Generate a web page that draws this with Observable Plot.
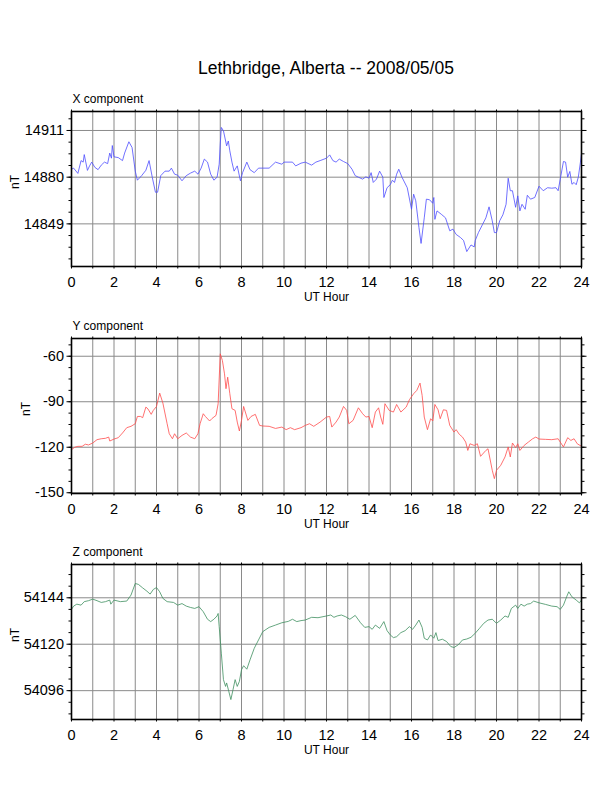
<!DOCTYPE html>
<html><head><meta charset="utf-8">
<script src="https://cdn.jsdelivr.net/npm/d3@7"></script>
<script src="https://cdn.jsdelivr.net/npm/@observablehq/plot@0.6"></script>
<style>
body{margin:0;background:#fff;}
#page{position:relative;width:612px;height:792px;background:#fff;font-family:"Liberation Sans",Arial,Helvetica,sans-serif;overflow:hidden;}
#title{position:absolute;left:71px;width:510px;top:59.5px;text-align:center;font-size:17.5px;line-height:17.5px;color:#000;white-space:nowrap;}
.panel{position:absolute;left:0;}
</style>
</head><body>
<div id="page"><div id="title">Lethbridge, Alberta -- 2008/05/05</div></div>
<script>
// ---- data (UT hour, nT) ----
const hoursX = [0,0.1,0.3,0.45,0.55,0.6,0.75,0.85,0.95,1.1,1.25,1.4,1.55,1.7,1.8,1.88,1.92,2.0,2.2,2.4,2.5,2.7,2.85,3.0,3.1,3.3,3.5,3.65,3.8,3.95,4.05,4.2,4.4,4.6,4.7,4.85,5.0,5.2,5.4,5.6,5.8,5.95,6.1,6.25,6.4,6.55,6.7,6.85,6.95,7.0,7.05,7.15,7.3,7.38,7.45,7.55,7.65,7.8,7.95,8.05,8.25,8.4,8.6,8.8,9.0,9.3,9.6,9.9,10.0,10.4,10.55,10.8,11.0,11.3,11.5,11.7,12.0,12.15,12.3,12.45,12.6,12.8,13.0,13.2,13.35,13.5,13.7,13.85,14.0,14.1,14.2,14.35,14.5,14.65,14.7,14.85,15.0,15.1,15.2,15.3,15.4,15.55,15.8,16.0,16.1,16.2,16.35,16.45,16.6,16.7,16.85,17.0,17.05,17.1,17.2,17.4,17.6,17.8,17.95,18.1,18.3,18.45,18.6,18.8,18.95,19.0,19.15,19.35,19.5,19.65,19.8,19.9,20.0,20.15,20.3,20.45,20.55,20.65,20.75,20.9,21.0,21.1,21.2,21.35,21.45,21.6,21.8,22.0,22.2,22.4,22.6,22.8,22.9,23.0,23.15,23.25,23.35,23.45,23.55,23.65,23.75,23.85,23.95,24.0];
const valuesX = [14885.3,14886,14882.5,14891,14890,14895,14884.5,14887.5,14890,14886.5,14885,14888,14890,14889,14896,14892.6,14901,14893.5,14893,14891,14896,14903.5,14899.7,14884,14878,14881,14884.6,14891,14880,14870,14870,14881,14884,14884,14886,14882,14881.3,14877.6,14881,14882.7,14884,14882,14886,14892,14890,14882,14878,14880,14888.6,14902,14913,14910.8,14900.8,14904,14897.5,14890,14884,14887.5,14877.6,14883,14890,14885,14883,14886,14886,14886,14890,14888.6,14890,14890,14887.5,14889.3,14890,14888,14890,14891,14892.6,14894.8,14891,14890,14892,14890.4,14889,14885.3,14881,14880,14878.7,14880.2,14879.3,14883,14876.5,14878.7,14884,14880,14866.5,14873,14875,14878,14876.5,14882,14885.3,14880,14873,14858.7,14868.7,14864.3,14846.6,14836,14853,14865.4,14865,14862.7,14866.5,14852,14857.6,14855.4,14853,14844.4,14845.5,14842,14840,14838,14830.6,14835,14833.7,14838,14843.2,14848.8,14853,14860.3,14851,14843.2,14843.2,14851,14855,14862,14879.3,14871,14871,14860,14867.6,14857.6,14862,14858.7,14868,14865.4,14866.5,14874,14871,14873,14872.7,14873,14871,14878.7,14890.4,14890,14880,14883.8,14875.3,14876.5,14875,14880,14890,14895.7];

const hoursY = [0,0.15,0.3,0.5,0.65,0.8,1.0,1.2,1.4,1.6,1.75,1.8,2.0,2.2,2.4,2.6,2.8,3.0,3.1,3.25,3.35,3.5,3.6,3.75,3.85,4.0,4.15,4.3,4.5,4.6,4.75,4.85,5.0,5.2,5.4,5.6,5.8,5.95,6.05,6.2,6.3,6.5,6.6,6.8,6.9,7.0,7.1,7.2,7.27,7.35,7.45,7.55,7.7,7.8,7.9,8.0,8.1,8.3,8.45,8.65,8.85,9.0,9.3,9.6,9.9,10.1,10.3,10.5,10.8,11.0,11.2,11.4,11.7,12.0,12.15,12.25,12.45,12.6,12.8,12.95,13.05,13.25,13.5,13.7,13.85,14.0,14.15,14.3,14.45,14.55,14.65,14.75,14.95,15.15,15.3,15.5,15.75,15.9,16.1,16.25,16.4,16.5,16.6,16.75,16.9,17.0,17.1,17.25,17.35,17.5,17.65,17.8,18.0,18.1,18.25,18.4,18.55,18.65,18.75,18.95,19.1,19.25,19.5,19.6,19.8,19.9,20.0,20.2,20.4,20.55,20.65,20.75,20.9,21.0,21.1,21.3,21.5,21.7,21.85,22.0,22.3,22.6,22.9,23.0,23.15,23.35,23.5,23.65,23.8,24.0];
const valuesY = [-121.6,-120,-119.4,-119.4,-118,-118.5,-117.2,-115,-114.4,-114.1,-113.3,-115.9,-114.6,-113.7,-110.6,-107.1,-106.2,-104.5,-99.7,-99.7,-100.5,-93.5,-94.8,-98.3,-95.7,-93.1,-84.3,-90.9,-104.5,-111.1,-114.4,-111.1,-114.4,-112.2,-110.6,-113.3,-114.4,-111.1,-104.5,-97.9,-99.7,-102.7,-101.2,-99,-91.3,-58.4,-62.8,-71.6,-81.4,-73.8,-84.7,-94.6,-95.7,-103.4,-109.3,-102.3,-93.1,-102.3,-99.7,-98.3,-105.6,-106,-106.2,-107.6,-106.7,-108.4,-107.1,-108.4,-107.1,-105.6,-104.5,-106.2,-103.4,-100.1,-99.7,-106.7,-103.4,-100.1,-93.1,-95.7,-104.5,-102.3,-94,-97.9,-100.1,-99.7,-107.1,-96.8,-94,-100.1,-104.9,-91.3,-95.7,-96.8,-91.8,-96.8,-93.5,-88.7,-84.7,-82.5,-77.7,-85.8,-100.1,-108.4,-101.2,-102.7,-91.8,-95.3,-101.2,-95.3,-95.7,-105.6,-110,-108.4,-111.5,-113.3,-116.6,-122.1,-117.7,-118.8,-117.7,-126,-122.1,-121,-135.2,-140.7,-135.2,-131.9,-126.4,-119.8,-126.4,-117.2,-120.3,-117.7,-122.1,-118.8,-116.6,-114.4,-113.3,-114.6,-114.8,-115,-114.4,-116.6,-119.8,-113.7,-115.5,-114.4,-117.7,-119.4];

const hoursZ = [0,0.1,0.25,0.45,0.6,0.8,1.0,1.2,1.4,1.6,1.8,1.85,2.0,2.3,2.6,2.8,3.0,3.15,3.35,3.55,3.7,3.85,4.0,4.15,4.3,4.5,4.8,5.0,5.2,5.4,5.6,5.8,6.0,6.2,6.4,6.55,6.7,6.85,6.9,6.95,7.05,7.15,7.25,7.3,7.4,7.5,7.6,7.7,7.8,7.9,8.0,8.1,8.25,8.4,8.6,8.8,9.0,9.3,9.6,9.9,10.2,10.4,10.6,10.8,11.0,11.3,11.6,12.0,12.2,12.35,12.5,12.7,12.9,13.1,13.35,13.6,13.8,14.0,14.15,14.3,14.5,14.7,14.85,15.0,15.15,15.3,15.5,15.7,15.9,16.05,16.2,16.35,16.5,16.6,16.75,16.9,17.05,17.15,17.25,17.45,17.65,17.85,18.0,18.2,18.4,18.6,18.8,19.0,19.2,19.4,19.6,19.8,20.0,20.2,20.4,20.55,20.7,20.9,21.0,21.15,21.3,21.45,21.6,21.75,22.0,22.3,22.6,22.85,23.0,23.15,23.3,23.4,23.55,23.75,23.9,24.0];
const valuesZ = [54138,54139.7,54140.7,54140.2,54142,54142.5,54143.3,54142.5,54141.6,54142,54142.8,54140.7,54142.8,54142,54142.3,54145.4,54151.4,54150.9,54149.1,54147.4,54145.9,54148.3,54149.3,54147.1,54143.7,54142,54141.6,54140.2,54141,54139.7,54139,54138.5,54139.4,54136.8,54132.9,54131.7,54132.9,54134.6,54135.9,54129.1,54115.4,54101.7,54098.2,54100,54095.7,54091.4,54096.5,54101.7,54098.2,54100.8,54106.8,54108.9,54107.1,54111.9,54117.9,54122.2,54126.5,54128.7,54129.9,54131.1,54131.8,54132.9,54131.7,54132.2,54132.5,54133.9,54133.7,54134.6,54135.1,54133.9,54134.6,54135.1,54134.2,54132.9,54134.9,54131.1,54128.7,54129.1,54127.7,54129.9,54128.2,54131.7,54127,54124.8,54123.4,54123.9,54126,54127,54129.1,54127.7,54129.9,54132.5,54128.7,54123.1,54122.2,54124.8,54123.1,54126,54121.9,54122.6,54121.4,54118.8,54118.3,54119.7,54122.2,54122.7,54123.6,54125.7,54128.2,54130.8,54132.5,54132.9,54130.8,54132.5,54134.6,54133.9,54138.5,54140.2,54138.5,54140.7,54139.7,54140.7,54141,54142.3,54141.4,54140.6,54139.7,54139.4,54138,54140.2,54144.5,54147.1,54144.5,54142.8,54141.4,54142.8];

const hourTicks = d3.range(0, 25, 1);
const hourLabels = d3.range(0, 25, 2);
const majorX = [14849, 14880, 14911];
const majorY = [-150, -120, -90, -60];
const majorZ = [54096, 54120, 54144];

const FONT = '"Liberation Sans", Arial, Helvetica, sans-serif';

function panel({hours, values, color, domain, major, minorStep, label, top, nTdx}) {
  const data = hours.map((h, i) => ({h, v: values[i]}));
  const minor = d3.range(Math.ceil((domain[0] - major[0]) / minorStep), Math.floor((domain[1] - major[0]) / minorStep) + 1)
    .map(k => major[0] + k * minorStep);
  const chart = Plot.plot({
    width: 612, height: 230,
    marginLeft: 71, marginRight: 31, marginTop: 30, marginBottom: 45,
    style: {fontFamily: FONT, fontSize: "14.5px", color: "#000", background: "transparent", overflow: "visible"},
    x: {domain: [0, 24]},
    y: {domain},
    marks: [
      Plot.ruleX(hourTicks.slice(1, -1), {stroke: "#8a8a8a", strokeWidth: 1}),
      Plot.ruleY(major, {stroke: "#8a8a8a", strokeWidth: 1}),
      Plot.line(data, {x: "h", y: "v", stroke: color, strokeWidth: 0.8}),
      Plot.frame({stroke: "#000", strokeWidth: 1.6}),
      Plot.axisY(major, {anchor: "left", tickSize: 4.5, tickPadding: 3, label: null, tickFormat: d => String(d)}),
      Plot.axisY(minor, {anchor: "left", tickSize: 2.5, fill: "none", label: null}),
      Plot.axisY(major, {anchor: "right", tickSize: 4.5, fill: "none", label: null}),
      Plot.axisY(minor, {anchor: "right", tickSize: 2.5, fill: "none", label: null}),
      Plot.axisX(hourTicks, {anchor: "top", tickSize: 2.5, fill: "none", label: null}),
      Plot.axisX(hourTicks, {anchor: "bottom", tickSize: 2.5, fill: "none", label: null}),
      Plot.axisX(hourLabels, {anchor: "bottom", tickSize: 0, tickPadding: 10.5, label: null, tickFormat: d => String(d)}),
      Plot.text([label], {text: d => d, frameAnchor: "top-left", textAnchor: "start", lineAnchor: "middle", dx: 1, dy: -12.5, fontSize: 12}),
      Plot.text(["UT Hour"], {text: d => d, frameAnchor: "bottom", lineAnchor: "middle", dy: 30.5, fontSize: 12}),
      Plot.text(["nT"], {text: d => d, frameAnchor: "left", lineAnchor: "middle", dx: nTdx, rotate: -90, fontSize: 12})
    ]
  });
  chart.classList.add("panel");
  chart.style.top = top + "px";
  document.getElementById("page").appendChild(chart);
}

panel({hours: hoursX, values: valuesX, color: "#4d4dff", domain: [14820.7, 14923.6], major: majorX, minorStep: 7.75, label: "X component", top: 80.7, nTdx: -56.7});
panel({hours: hoursY, values: valuesY, color: "#ff4d4d", domain: [-150.5, -48.3], major: majorY, minorStep: 7.5, label: "Y component", top: 308, nTdx: -45.5});
panel({hours: hoursZ, values: valuesZ, color: "#3f8f60", domain: [54081.1, 54161.2], major: majorZ, minorStep: 6, label: "Z component", top: 534.3, nTdx: -56.7});
</script>
</body></html>
